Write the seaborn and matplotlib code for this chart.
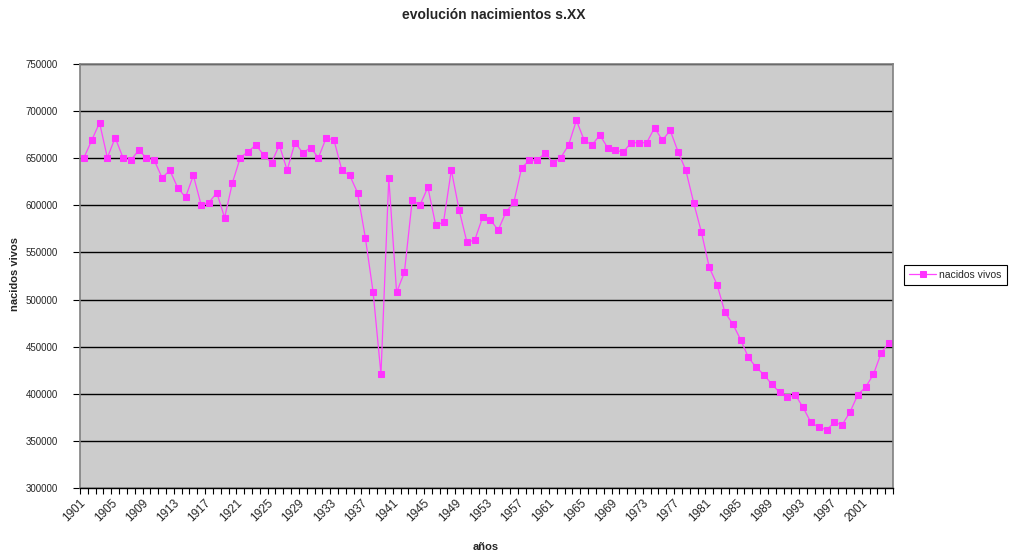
import pandas as pd
import seaborn as sns
import matplotlib.pyplot as plt
from matplotlib.ticker import FixedLocator, NullFormatter
from matplotlib.transforms import ScaledTranslation

years = list(range(1901, 2005))
births = [
    650500, 669000, 687700, 650500, 671800, 650500, 647800, 658400, 650500, 647800,
    629300, 637100, 618700, 608500, 631800, 600200, 603000, 613400, 586900, 624000,
    650500, 657000, 664000, 653400, 645200, 664000, 637200, 666500, 655800, 661100,
    650500, 671800, 669000, 637200, 631800, 613600, 565800, 507600, 420600, 629300,
    507600, 528900, 605600, 600300, 619100, 579100, 581900, 637500, 595000, 560700,
    563200, 587300, 584400, 573800, 593000, 603200, 639900, 647700, 647700, 655800,
    645200, 650500, 664000, 690200, 669000, 664000, 674600, 661100, 658400, 656500,
    666500, 666500, 666500, 682400, 669000, 679600, 657000, 637200, 602800, 571300,
    534100, 515700, 486400, 474200, 457600, 438600, 428000, 420200, 410000, 401500,
    396200, 398900, 385500, 369600, 364600, 361800, 369600, 367100, 380600, 398900,
    407100, 420600, 443700, 454200,
]
label_years = list(range(1901, 2005, 4))
y_ticks = list(range(300000, 750001, 50000))

df = pd.DataFrame({"año": years, "nacidos vivos": births})

sns.set_style("white")
plt.rcParams["font.family"] = ["Liberation Sans", "DejaVu Sans"]

W, H = 1021, 556
fig = plt.figure(figsize=(W / 100, H / 100), dpi=100)
ax = fig.add_axes([80 / W, 1 - 488 / H, 813 / W, 424 / H])
ax.set_facecolor("#CCCCCC")

sns.lineplot(
    data=df, x="año", y="nacidos vivos", ax=ax,
    color="#FF44FF", linewidth=0.9, marker="s", markersize=4,
    markerfacecolor="#FF33FF", markeredgecolor="#FF33FF",
    label="nacidos vivos",
)

ax.set_xlim(1900.5, 2004.5)
ax.set_ylim(300000, 750000)

# y axis
ax.set_yticks(y_ticks)
ax.set_yticklabels([str(v) for v in y_ticks], fontsize=7)
ax.yaxis.grid(True, color="black", linewidth=1)
ax.set_axisbelow(True)
ax.tick_params(axis="y", direction="out", length=5, width=0.8,
               color="black", pad=11, left=True)

# x axis: small ticks between categories, labels every 4 years
ax.set_xticks(label_years)
ax.set_xticklabels([str(y) for y in label_years], fontsize=8.5,
                   rotation=45, ha="right", va="center", rotation_mode="anchor")
shift = ScaledTranslation(-7 / 100, 0, fig.dpi_scale_trans)
for lbl in ax.get_xticklabels():
    lbl.set_transform(lbl.get_transform() + shift)
ax.xaxis.set_minor_locator(FixedLocator([y - 0.5 for y in years + [2005]]))
ax.xaxis.set_minor_formatter(NullFormatter())
ax.tick_params(axis="x", which="major", length=0, pad=9.4)
ax.tick_params(axis="x", which="minor", direction="out", length=4,
               width=0.8, color="black", bottom=True)

for side in ["top", "right", "left"]:
    ax.spines[side].set_color("#808080")
    ax.spines[side].set_linewidth(1.2)
ax.spines["bottom"].set_color("black")
ax.spines["bottom"].set_linewidth(1)

ax.set_xlabel("")
ax.set_ylabel("")
fig.text(494 / W, 1 - 15 / H, "evolución nacimientos s.XX",
         ha="center", va="center", fontsize=10, fontweight="bold")
fig.text(15 / W, 1 - 274 / H, "nacidos vivos", rotation=90,
         ha="center", va="center", fontsize=8, fontweight="bold")
fig.text(486 / W, 1 - 547 / H, "años",
         ha="center", va="center", fontsize=8, fontweight="bold")

leg = ax.legend(loc="center left", bbox_to_anchor=(904 / W, 1 - 275 / H),
                bbox_transform=fig.transFigure, fontsize=7.5, frameon=True,
                fancybox=False, edgecolor="black", framealpha=1,
                borderpad=0.5, handlelength=2.6, handletextpad=0.3,
                borderaxespad=0)
leg.get_frame().set_linewidth(0.8)

fig.savefig("out.png", dpi=100)
